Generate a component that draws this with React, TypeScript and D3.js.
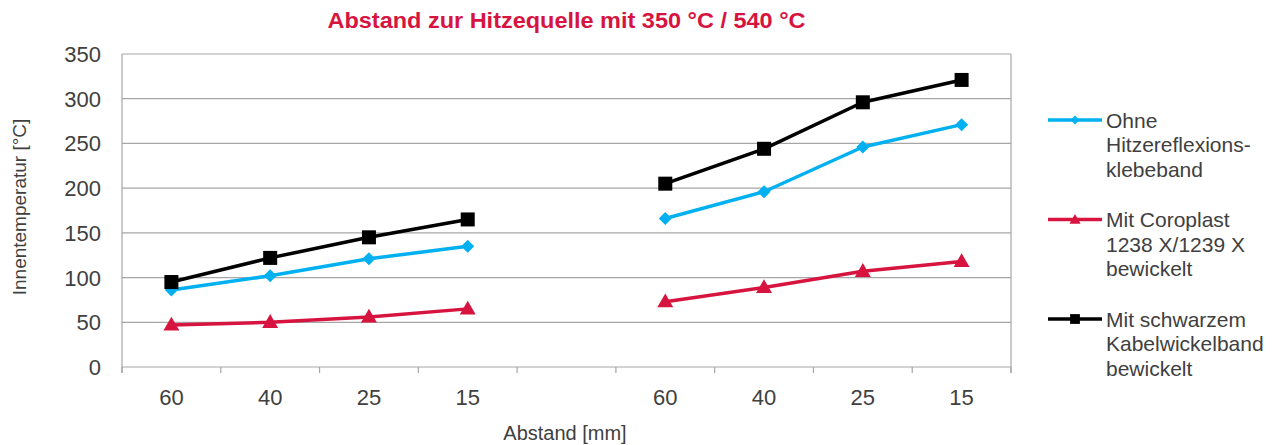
import React from 'react';
import * as d3 from 'd3';

const categories = ['60', '40', '25', '15', '', '60', '40', '25', '15'];
const ohne = [86, 102, 121, 135, null, 166, 196, 246, 271];
const coroplast = [47, 50, 56, 65, null, 73, 89, 107, 118];
const schwarz = [95, 122, 145, 165, null, 205, 244, 296, 321];
const yTicks = [0, 50, 100, 150, 200, 250, 300, 350];

const series = [
  { name: ['Ohne', 'Hitzereflexions-', 'klebeband'], values: ohne, color: '#00b0f0', marker: 'diamond' },
  { name: ['Mit Coroplast', '1238 X/1239 X', 'bewickelt'], values: coroplast, color: '#d7143f', marker: 'triangle' },
  { name: ['Mit schwarzem', 'Kabelwickelband', 'bewickelt'], values: schwarz, color: '#000000', marker: 'square' },
];

const W = 1277;
const H = 445;
const left = 122;
const right = 1011;
const top = 54;
const bottom = 367;

function Marker({ type, x, y, color, scale = 1 }: any) {
  if (type === 'square') {
    const s = 14 * scale;
    return <rect x={x - s / 2} y={y - s / 2} width={s} height={s} fill={color} />;
  }
  if (type === 'diamond') {
    const r = 6.5 * scale;
    return <path d={`M${x},${y - r}L${x + r},${y}L${x},${y + r}L${x - r},${y}Z`} fill={color} />;
  }
  const sym = d3.symbol(d3.symbolTriangle, 110 * scale * scale)();
  return <path d={sym} transform={`translate(${x},${y + 1})`} fill={color} />;
}

export default function App() {
  const x = d3.scaleBand<number>().domain(categories.map((_, i) => i)).range([left, right]).paddingInner(0).paddingOuter(0);
  const y = d3.scaleLinear().domain([0, 350]).range([bottom, top]);
  const cx = (i: number) => (x(i) as number) + x.bandwidth() / 2;

  const line = d3
    .line<number | null>()
    .defined((d) => d != null)
    .x((_, i) => cx(i))
    .y((d) => y(d as number));

  const tickXs = d3.range(categories.length + 1).map((i) => left + i * x.bandwidth());

  return (
    <svg width={W} height={H} style={{ position: 'absolute', left: 0, top: 0, fontFamily: 'Liberation Sans, Arial, sans-serif' }}>
      <rect width={W} height={H} fill="#fff" />
      <text x={(left + right) / 2} y={28} textAnchor="middle" fontSize={22} fontWeight="bold" fill="#d7143f" textLength={478} lengthAdjust="spacingAndGlyphs">
        Abstand zur Hitzequelle mit 350 °C / 540 °C
      </text>

      {yTicks.map((t) => (
        <g key={t}>
          <line x1={left} x2={right} y1={y(t)} y2={y(t)} stroke="#a6a6a6" strokeWidth={1.2} />
          <text x={101} y={y(t) + 8} textAnchor="end" fontSize={22} fill="#404040">
            {t}
          </text>
        </g>
      ))}
      <line x1={left} x2={left} y1={top} y2={bottom + 6} stroke="#a6a6a6" strokeWidth={1.2} />
      <line x1={right} x2={right} y1={top} y2={bottom + 6} stroke="#a6a6a6" strokeWidth={1.2} />
      {tickXs.map((tx, i) => (
        <line key={i} x1={tx} x2={tx} y1={bottom} y2={bottom + 6} stroke="#a6a6a6" strokeWidth={1.2} />
      ))}
      {categories.map((c, i) => (
        <text key={i} x={cx(i)} y={405} textAnchor="middle" fontSize={22} fill="#404040">
          {c}
        </text>
      ))}

      <text transform={`translate(26,207) rotate(-90)`} textAnchor="middle" fontSize={19} fill="#404040">
        Innentemperatur [°C]
      </text>
      <text x={565} y={440} textAnchor="middle" fontSize={20} fill="#404040">
        Abstand [mm]
      </text>

      {series.map((s) => (
        <g key={s.color}>
          <path d={line(s.values) as string} fill="none" stroke={s.color} strokeWidth={3.5} strokeLinejoin="round" />
          {s.values.map((v, i) =>
            v == null ? null : <Marker key={i} type={s.marker} x={cx(i)} y={y(v)} color={s.color} />
          )}
        </g>
      ))}

      {series.map((s, k) => {
        const ly = 120 + k * 99.5;
        return (
          <g key={'lg' + k}>
            <line x1={1048} x2={1102} y1={ly} y2={ly} stroke={s.color} strokeWidth={3.5} />
            <Marker type={s.marker} x={1075} y={ly} color={s.color} scale={0.7} />
            {s.name.map((n, j) => (
              <text key={j} x={1106} y={ly + 7.5 + j * 24.5} fontSize={21} fill="#404040">
                {n}
              </text>
            ))}
          </g>
        );
      })}
    </svg>
  );
}
